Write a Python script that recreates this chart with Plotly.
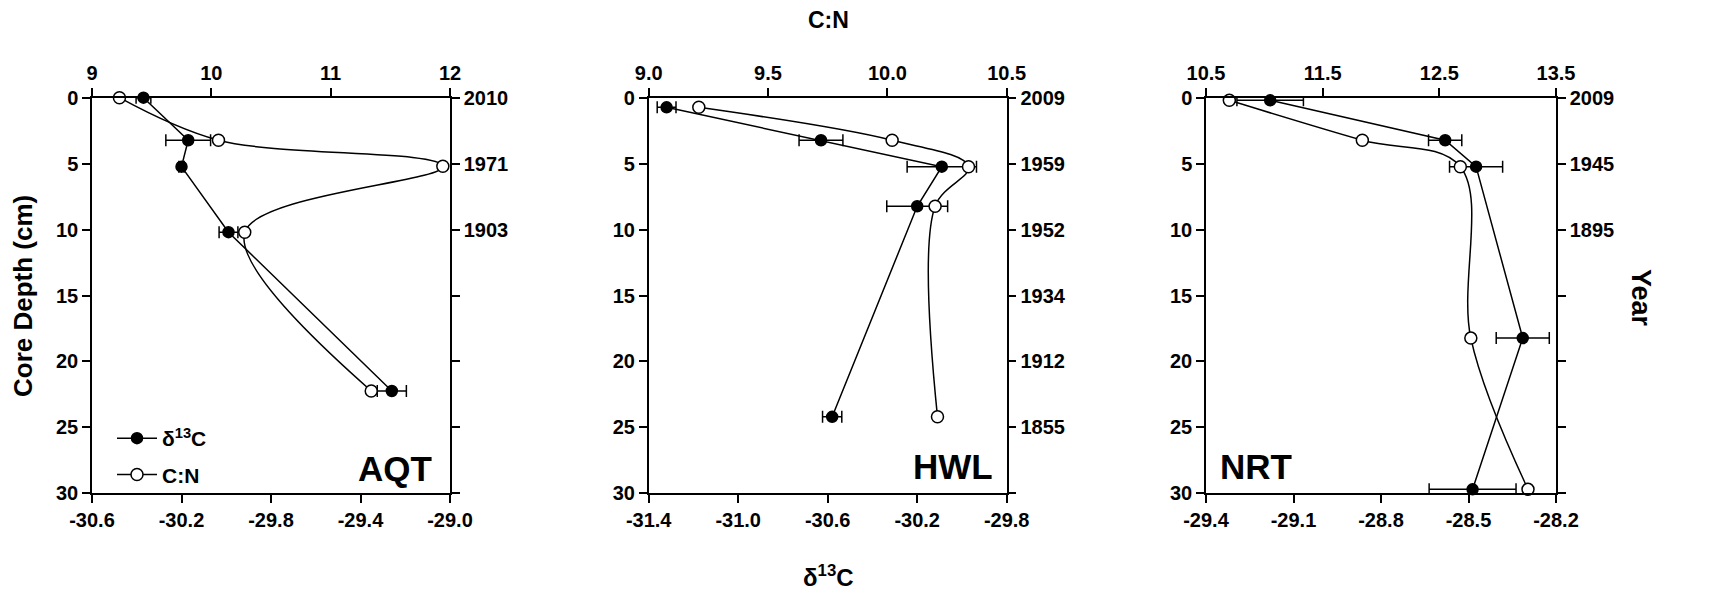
import plotly.graph_objects as go

# ---------------- data ----------------
panels = ["AQT", "HWL", "NRT"]

# AQT
aqt_d13c_depth = [0.0, 3.23, 5.23, 10.2, 22.24]
aqt_d13c = [-30.37, -30.17, -30.20, -29.99, -29.26]
aqt_d13c_err = [0.033, 0.10, 0.012, 0.042, 0.065]
aqt_cn_depth = [0.0, 3.23, 5.2, 10.2, 22.24]
aqt_cn = [9.23, 10.06, 11.94, 10.28, 11.34]
aqt_years = ["2010", "1971", "1903", "", "", "", ""]

# HWL
hwl_d13c_depth = [0.73, 3.23, 5.23, 8.23, 24.2]
hwl_d13c = [-31.32, -30.63, -30.09, -30.20, -30.58]
hwl_d13c_err = [0.042, 0.098, 0.155, 0.136, 0.043]
hwl_cn_depth = [0.73, 3.23, 5.23, 8.23, 24.2]
hwl_cn = [9.21, 10.02, 10.34, 10.20, 10.21]
hwl_years = ["2009", "1959", "1952", "1934", "1912", "1855", ""]

# NRT
nrt_d13c_depth = [0.2, 3.23, 5.23, 18.23, 29.7]
nrt_d13c = [-29.18, -28.58, -28.474, -28.314, -28.486]
nrt_d13c_err = [0.114, 0.057, 0.091, 0.091, 0.149]
nrt_cn_depth = [0.2, 3.23, 5.23, 18.23, 29.7]
nrt_cn = [10.70, 11.84, 12.68, 12.77, 13.26]
nrt_years = ["2009", "1945", "1895", "", "", "", ""]

depth_ticks = [0, 5, 10, 15, 20, 25, 30]
depth_labels = ["0", "5", "10", "15", "20", "25", "30"]

aqt_d13c_ticks = [-30.6, -30.2, -29.8, -29.4, -29.0]
aqt_d13c_labels = ["-30.6", "-30.2", "-29.8", "-29.4", "-29.0"]
aqt_cn_ticks = [9, 10, 11, 12]
aqt_cn_labels = ["9", "10", "11", "12"]

hwl_d13c_ticks = [-31.4, -31.0, -30.6, -30.2, -29.8]
hwl_d13c_labels = ["-31.4", "-31.0", "-30.6", "-30.2", "-29.8"]
hwl_cn_ticks = [9.0, 9.5, 10.0, 10.5]
hwl_cn_labels = ["9.0", "9.5", "10.0", "10.5"]

nrt_d13c_ticks = [-29.4, -29.1, -28.8, -28.5, -28.2]
nrt_d13c_labels = ["-29.4", "-29.1", "-28.8", "-28.5", "-28.2"]
nrt_cn_ticks = [10.5, 11.5, 12.5, 13.5]
nrt_cn_labels = ["10.5", "11.5", "12.5", "13.5"]

# ---------------- layout geometry ----------------
W, H = 1734, 596
FONT = "Liberation Sans, Arial, sans-serif"
x_domains = [(92, 450), (648.7, 1006.7), (1206, 1556)]
y_top, y_bot = 97.7, 493.3
ydom = [1 - y_bot / H, 1 - y_top / H]

panel_data = [
    (aqt_d13c_depth, aqt_d13c, aqt_d13c_err, aqt_cn_depth, aqt_cn, aqt_years,
     aqt_d13c_ticks, aqt_d13c_labels, aqt_cn_ticks, aqt_cn_labels),
    (hwl_d13c_depth, hwl_d13c, hwl_d13c_err, hwl_cn_depth, hwl_cn, hwl_years,
     hwl_d13c_ticks, hwl_d13c_labels, hwl_cn_ticks, hwl_cn_labels),
    (nrt_d13c_depth, nrt_d13c, nrt_d13c_err, nrt_cn_depth, nrt_cn, nrt_years,
     nrt_d13c_ticks, nrt_d13c_labels, nrt_cn_ticks, nrt_cn_labels),
]

fig = go.Figure()
tickfont = dict(family=FONT, size=20, color="black", weight="bold")
axis_common = dict(showline=True, linecolor="black", linewidth=1.5, ticks="outside",
                   ticklen=8, tickwidth=1.5, tickcolor="black", showgrid=False,
                   zeroline=False, tickfont=tickfont, automargin=False)

layout = {}
for i, (dd, dv, de, cd, cv, yrs, dt, dl, ct, cl) in enumerate(panel_data):
    xb = 2 * i + 1
    xt = 2 * i + 2
    yl = 2 * i + 1
    yr = 2 * i + 2
    xb_name = "x" if xb == 1 else f"x{xb}"
    xt_name = f"x{xt}"
    yl_name = "y" if yl == 1 else f"y{yl}"
    yr_name = f"y{yr}"
    dom = [x_domains[i][0] / W, x_domains[i][1] / W]

    layout["xaxis" if xb == 1 else f"xaxis{xb}"] = dict(
        axis_common, domain=dom, anchor=yl_name, side="bottom",
        range=[dt[0], dt[-1]], tickvals=dt, ticktext=dl)
    layout[f"xaxis{xt}"] = dict(
        axis_common, overlaying=xb_name, anchor=yl_name, side="top",
        range=[ct[0], ct[-1]], tickvals=ct, ticktext=cl)
    layout["yaxis" if yl == 1 else f"yaxis{yl}"] = dict(
        axis_common, domain=ydom, anchor=xb_name, side="left",
        range=[30, 0], tickvals=depth_ticks, ticktext=depth_labels)
    layout[f"yaxis{yr}"] = dict(
        axis_common, overlaying=yl_name, anchor=xb_name, side="right",
        range=[30, 0], tickvals=depth_ticks, ticktext=yrs)

    # delta 13C (filled, straight line, error bars)
    fig.add_trace(go.Scatter(
        x=dv, y=dd, xaxis=xb_name, yaxis=yl_name, mode="lines+markers",
        name="δ<sup>13</sup>C", legendgroup="d13c", showlegend=(i == 0),
        line=dict(color="black", width=1.5),
        marker=dict(symbol="circle", size=11, color="black",
                    line=dict(color="black", width=1.5)),
        error_x=dict(type="data", array=de, visible=True, color="black",
                     thickness=1.5, width=6),
        cliponaxis=False))
    # C:N (open, spline)
    fig.add_trace(go.Scatter(
        x=cv, y=cd, xaxis=xt_name, yaxis=yl_name, mode="lines+markers",
        name="C:N", legendgroup="cn", showlegend=(i == 0),
        line=dict(color="black", width=1.5, shape="spline", smoothing=1),
        marker=dict(symbol="circle", size=12, color="white",
                    line=dict(color="black", width=1.5)),
        cliponaxis=False))
    # invisible trace so the right (Year) axis is drawn
    fig.add_trace(go.Scatter(
        x=[dt[0]], y=[0], xaxis=xb_name, yaxis=yr_name, mode="markers",
        marker=dict(opacity=0), showlegend=False, hoverinfo="skip"))

# panel labels (right/left edge, vertical centre in px)
label_pos = [(433, 468, "right"), (994, 467, "right"), (1219, 467, "left")]
annots = []
for (px, py, anc), name in zip(label_pos, panels):
    annots.append(dict(x=px / W, y=1 - py / H, xref="paper", yref="paper", text=name,
                       showarrow=False, xanchor=anc, yanchor="middle", borderpad=0,
                       font=dict(family=FONT, size=35, color="black", weight="bold")))

annots += [
    dict(x=828 / W, y=1 - 20 / H, xref="paper", yref="paper", text="C:N", showarrow=False,
         xanchor="center", yanchor="middle",
         font=dict(family=FONT, size=23, color="black", weight="bold")),
    dict(x=828 / W, y=1 - 576 / H, xref="paper", yref="paper", text="δ<sup>13</sup>C",
         showarrow=False, xanchor="center", yanchor="middle",
         font=dict(family=FONT, size=24, color="black", weight="bold")),
    dict(x=23 / W, y=1 - 296 / H, xref="paper", yref="paper", text="Core Depth (cm)",
         showarrow=False, textangle=-90, xanchor="center", yanchor="middle",
         font=dict(family=FONT, size=26, color="black", weight="bold")),
    dict(x=1641 / W, y=1 - 298 / H, xref="paper", yref="paper", text="Year",
         showarrow=False, textangle=90, xanchor="center", yanchor="middle",
         font=dict(family=FONT, size=27, color="black", weight="bold")),
]

fig.update_layout(
    **layout,
    width=W, height=H,
    margin=dict(l=0, r=0, t=0, b=0),
    paper_bgcolor="white", plot_bgcolor="white",
    annotations=annots,
    showlegend=True,
    legend=dict(x=112 / W, y=1 - 418 / H, xanchor="left", yanchor="top",
                bgcolor="rgba(0,0,0,0)", tracegroupgap=6, itemwidth=40,
                font=dict(family=FONT, size=21, color="black", weight="bold")),
)

fig.write_html(
    "out.html",
    config={"displayModeBar": False},
    post_script="document.body.style.margin='0px';document.body.style.overflow='hidden';",
)
